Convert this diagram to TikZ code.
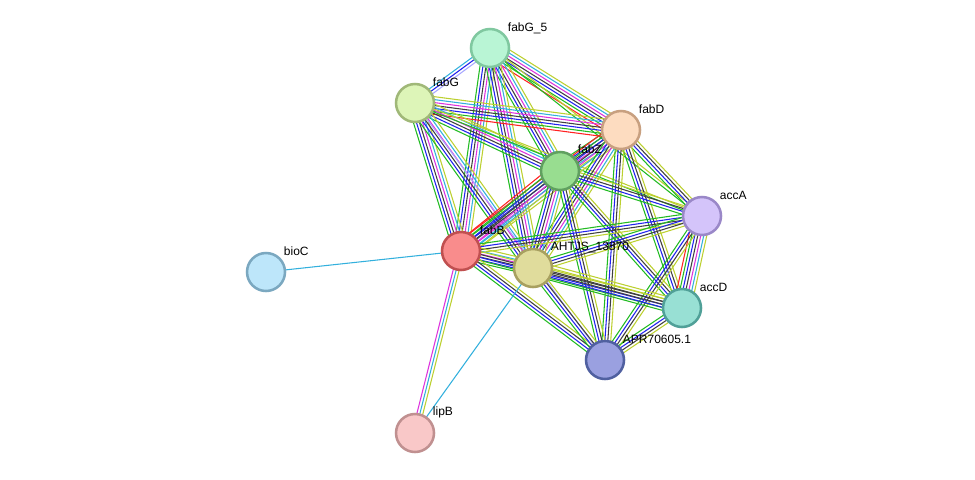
\documentclass[tikz,border=0pt]{standalone}
\usepackage{fontspec}
\setmainfont{Liberation Sans}
\usetikzlibrary{calc}
\definecolor{eG}{HTML}{22BB22}
\definecolor{eB}{HTML}{2222EE}
\definecolor{eK}{HTML}{404040}
\definecolor{eM}{HTML}{DD33DD}
\definecolor{eC}{HTML}{33B0DD}
\definecolor{eY}{HTML}{BCD030}
\definecolor{eR}{HTML}{FF2222}
\definecolor{eL}{HTML}{A8A8FF}
\newcommand\medge[4]{%
  \edef\mylst{#4}%
  \foreach \c [count=\i] in \mylst {%
    \pgfmathsetmacro\o{(\i-(#3+1)/2)*2.2}%
    \draw[\c, line width=0.8pt] ($(#1)!\o pt!90:(#2)$) -- ($(#2)!\o pt!-90:(#1)$);
  }}
\newcommand\fullE{eG,eB,eK,eM,eC,eY}
\newcommand\fullR{eR,eG,eB,eK,eM,eC,eY}
\newcommand\stdE{eG,eB,eK,eY}
\begin{document}
\begin{tikzpicture}[x=0.75pt,y=-0.75pt,
  prot/.style={circle,minimum size=28.5pt,inner sep=0pt,line width=1.9pt},
  lab/.style={anchor=west,font=\fontsize{9}{10}\selectfont,inner sep=0.5pt}]
\useasboundingbox (0,0) rectangle (975,479);
\coordinate (g5) at (490,48);
\coordinate (g) at (415,103);
\coordinate (d) at (621,130);
\coordinate (z) at (560,171);
\coordinate (aa) at (702,216);
\coordinate (b) at (461,251);
\coordinate (h) at (533,268);
\coordinate (bc) at (266,272);
\coordinate (ad) at (682,308);
\coordinate (ap) at (605,360);
\coordinate (lb) at (415,433);
% edges
\medge{g5}{g}{3}{eC,eB,eL}
\medge{g5}{d}{7}{\fullR}
\medge{g5}{z}{6}{\fullE}
\medge{g5}{b}{6}{\fullE}
\medge{g5}{h}{6}{\fullE}
\medge{g5}{aa}{2}{eG,eY}
\medge{g}{d}{7}{\fullR}
\medge{g}{z}{6}{\fullE}
\medge{g}{b}{6}{\fullE}
\medge{g}{h}{6}{\fullE}
\medge{g}{ap}{1}{eL}
\medge{g}{aa}{2}{eG,eY}
\medge{d}{z}{6}{\fullE}
\medge{d}{b}{7}{\fullR}
\medge{d}{h}{6}{\fullE}
\medge{d}{aa}{4}{\stdE}
\medge{d}{ad}{4}{\stdE}
\medge{d}{ap}{4}{\stdE}
\medge{z}{b}{7}{\fullR}
\medge{z}{h}{6}{\fullE}
\medge{z}{aa}{4}{\stdE}
\medge{z}{ad}{4}{\stdE}
\medge{z}{ap}{4}{\stdE}
\medge{aa}{b}{4}{\stdE}
\medge{aa}{h}{4}{\stdE}
\medge{aa}{ad}{7}{\fullR}
\medge{aa}{ap}{4}{\stdE}
\medge{b}{h}{6}{\fullE}
\medge{b}{ad}{4}{\stdE}
\medge{b}{ap}{4}{\stdE}
\medge{h}{ad}{6}{eG,eB,eK,eK,eY,eY}
\medge{h}{ap}{4}{\stdE}
\medge{ad}{ap}{4}{\stdE}
\medge{b}{lb}{3}{eM,eC,eY}
\medge{b}{bc}{1}{eC}
\medge{h}{lb}{1}{eC}
% nodes
\node[prot,fill={rgb,255:red,185;green,245;blue,213},draw={rgb,255:red,128;green,200;blue,160}] (G5) at (g5) {};
\node[prot,fill={rgb,255:red,221;green,245;blue,184},draw={rgb,255:red,160;green,184;blue,120}] (G) at (g) {};
\node[prot,fill={rgb,255:red,253;green,220;blue,192},draw={rgb,255:red,200;green,160;blue,128}] (D) at (d) {};
\node[prot,fill={rgb,255:red,152;green,221;blue,144},draw={rgb,255:red,96;green,160;blue,96}] (Z) at (z) {};
\node[prot,fill={rgb,255:red,212;green,196;blue,250},draw={rgb,255:red,154;green,136;blue,200}] (AA) at (aa) {};
\node[prot,fill={rgb,255:red,249;green,140;blue,140},draw={rgb,255:red,192;green,80;blue,80}] (B) at (b) {};
\node[prot,fill={rgb,255:red,224;green,220;blue,156},draw={rgb,255:red,168;green,160;blue,96}] (H) at (h) {};
\node[prot,fill={rgb,255:red,189;green,230;blue,250},draw={rgb,255:red,123;green,168;blue,192}] (BC) at (bc) {};
\node[prot,fill={rgb,255:red,152;green,224;blue,212},draw={rgb,255:red,80;green,160;blue,152}] (AD) at (ad) {};
\node[prot,fill={rgb,255:red,154;green,160;blue,224},draw={rgb,255:red,80;green,96;blue,160}] (AP) at (ap) {};
\node[prot,fill={rgb,255:red,249;green,200;blue,200},draw={rgb,255:red,192;green,144;blue,144}] (LB) at (lb) {};
% labels
\node[lab] (tG5) at (507,28) {fabG\_5};
\node[lab] (tG) at (432,82) {fabG};
\node[lab] (tD) at (638,109) {fabD};
\node[lab] (tZ) at (577,149) {fabZ};
\node[lab] (tAA) at (719,195) {accA};
\node[lab] (tB) at (479,230) {fabB};
\node[lab] (tH) at (550,247) {AHTJS\_13870};
\node[lab] (tBC) at (283,251) {bioC};
\node[lab] (tAD) at (699,287) {accD};
\node[lab] (tAP) at (622,339) {APR70605.1};
\node[lab] (tLB) at (432,412) {lipB};
\end{tikzpicture}
\end{document}
